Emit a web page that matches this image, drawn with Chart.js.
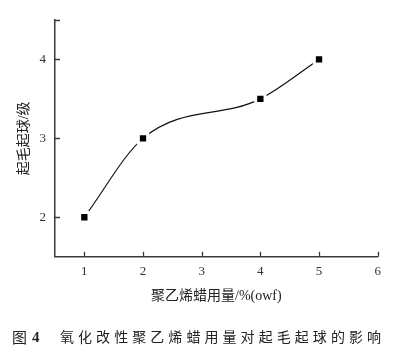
<!DOCTYPE html>
<html>
<head>
<meta charset="utf-8">
<script src="https://cdn.jsdelivr.net/npm/chart.js@4"></script>
<style>
  html, body { margin: 0; padding: 0; background: #fff; }
</style>
</head>
<body>
<canvas id="c" width="405" height="356"></canvas>
<script>
const dosage = [1, 2, 4, 5];
const pillingGrade = [2, 3, 3.5, 4];
const xTicks = [1, 2, 3, 4, 5, 6];
const yTicks = [2, 3, 4];
const xTitle = '聚乙烯蜡用量/%(owf)';
const yTitle = '起毛起球/级';
const figLabel = '图';
const figNum = '4';
const figCaption = '氧化改性聚乙烯蜡用量对起毛起球的影响';

const axisColor = '#3a3a3a';
const mixFont = '"Liberation Serif", "Noto Sans CJK SC"';

const innerTicks = {
  id: 'innerTicks',
  afterDraw(chart) {
    const ctx = chart.ctx;
    const xs = chart.scales.x, ys = chart.scales.y;
    const area = chart.chartArea;
    ctx.save();
    ctx.strokeStyle = axisColor;
    ctx.lineWidth = 1.3;
    ctx.beginPath();
    xTicks.forEach(v => {
      const px = Math.round(xs.getPixelForValue(v)) + 0.5;
      ctx.moveTo(px, area.bottom);
      ctx.lineTo(px, area.bottom - 5);
    });
    yTicks.concat([ys.max]).forEach(v => {
      const py = Math.round(ys.getPixelForValue(v)) + 0.5;
      ctx.moveTo(area.left, py);
      ctx.lineTo(area.left + 5, py);
    });
    ctx.stroke();

    // figure caption
    const cy = 337;
    ctx.fillStyle = '#222';
    ctx.textBaseline = 'middle';
    ctx.textAlign = 'left';
    ctx.font = '15px "Noto Sans CJK SC"';
    ctx.fillText(figLabel, 12, cy);
    ctx.font = 'bold 15px "Liberation Serif"';
    ctx.fillText(figNum, 32, cy + 1);
    ctx.font = '14px "Noto Sans CJK SC"';
    const n = [...figCaption].length;
    const raw = ctx.measureText(figCaption).width;
    const target = 381 - 60;
    const sp = (target - raw) / (n - 1);
    if ('letterSpacing' in ctx) {
      ctx.letterSpacing = sp + 'px';
      ctx.fillText(figCaption, 60, cy);
      ctx.letterSpacing = '0px';
    } else {
      ctx.fillText(figCaption, 60, cy);
    }
    ctx.restore();
  }
};

new Chart(document.getElementById('c'), {
  type: 'scatter',
  data: {
    datasets: [{
      data: dosage.map((x, i) => ({ x, y: pillingGrade[i] })),
      showLine: true,
      cubicInterpolationMode: 'monotone',
      borderColor: '#111',
      borderWidth: 1.2,
      pointStyle: 'rect',
      pointRadius: 6.6,
      pointBackgroundColor: '#000',
      pointBorderColor: '#fff',
      pointBorderWidth: 3,
      pointHoverRadius: 6.6
    }]
  },
  options: {
    responsive: false,
    animation: false,
    events: [],
    layout: { padding: { top: 20, right: 27.3, bottom: 46, left: 0 } },
    plugins: { legend: { display: false }, tooltip: { enabled: false } },
    scales: {
      x: {
        type: 'linear',
        min: 0.5, max: 6,
        afterBuildTicks: s => { s.ticks = xTicks.map(v => ({ value: v })); },
        afterFit: s => { s.height = 53.3; },
        grid: { display: false, drawTicks: false },
        border: { display: true, color: axisColor, width: 1.5 },
        ticks: { padding: 7, color: '#333', font: { family: 'Liberation Serif', size: 13 } },
        title: { display: true, text: xTitle, color: '#222', font: { family: mixFont, size: 14 }, padding: { top: 0, bottom: 5 } }
      },
      y: {
        type: 'linear',
        min: 1.5, max: 4.5,
        afterBuildTicks: s => { s.ticks = yTicks.map(v => ({ value: v })); },
        afterFit: s => { s.width = 55; },
        grid: { display: false, drawTicks: false },
        border: { display: true, color: axisColor, width: 1.5 },
        ticks: { padding: 9, color: '#333', font: { family: 'Liberation Serif', size: 13 } },
        title: { display: true, text: yTitle, color: '#222', font: { family: mixFont, size: 14 }, padding: { top: 16, bottom: 0 } }
      }
    }
  },
  plugins: [innerTicks]
});
</script>
</body>
</html>
